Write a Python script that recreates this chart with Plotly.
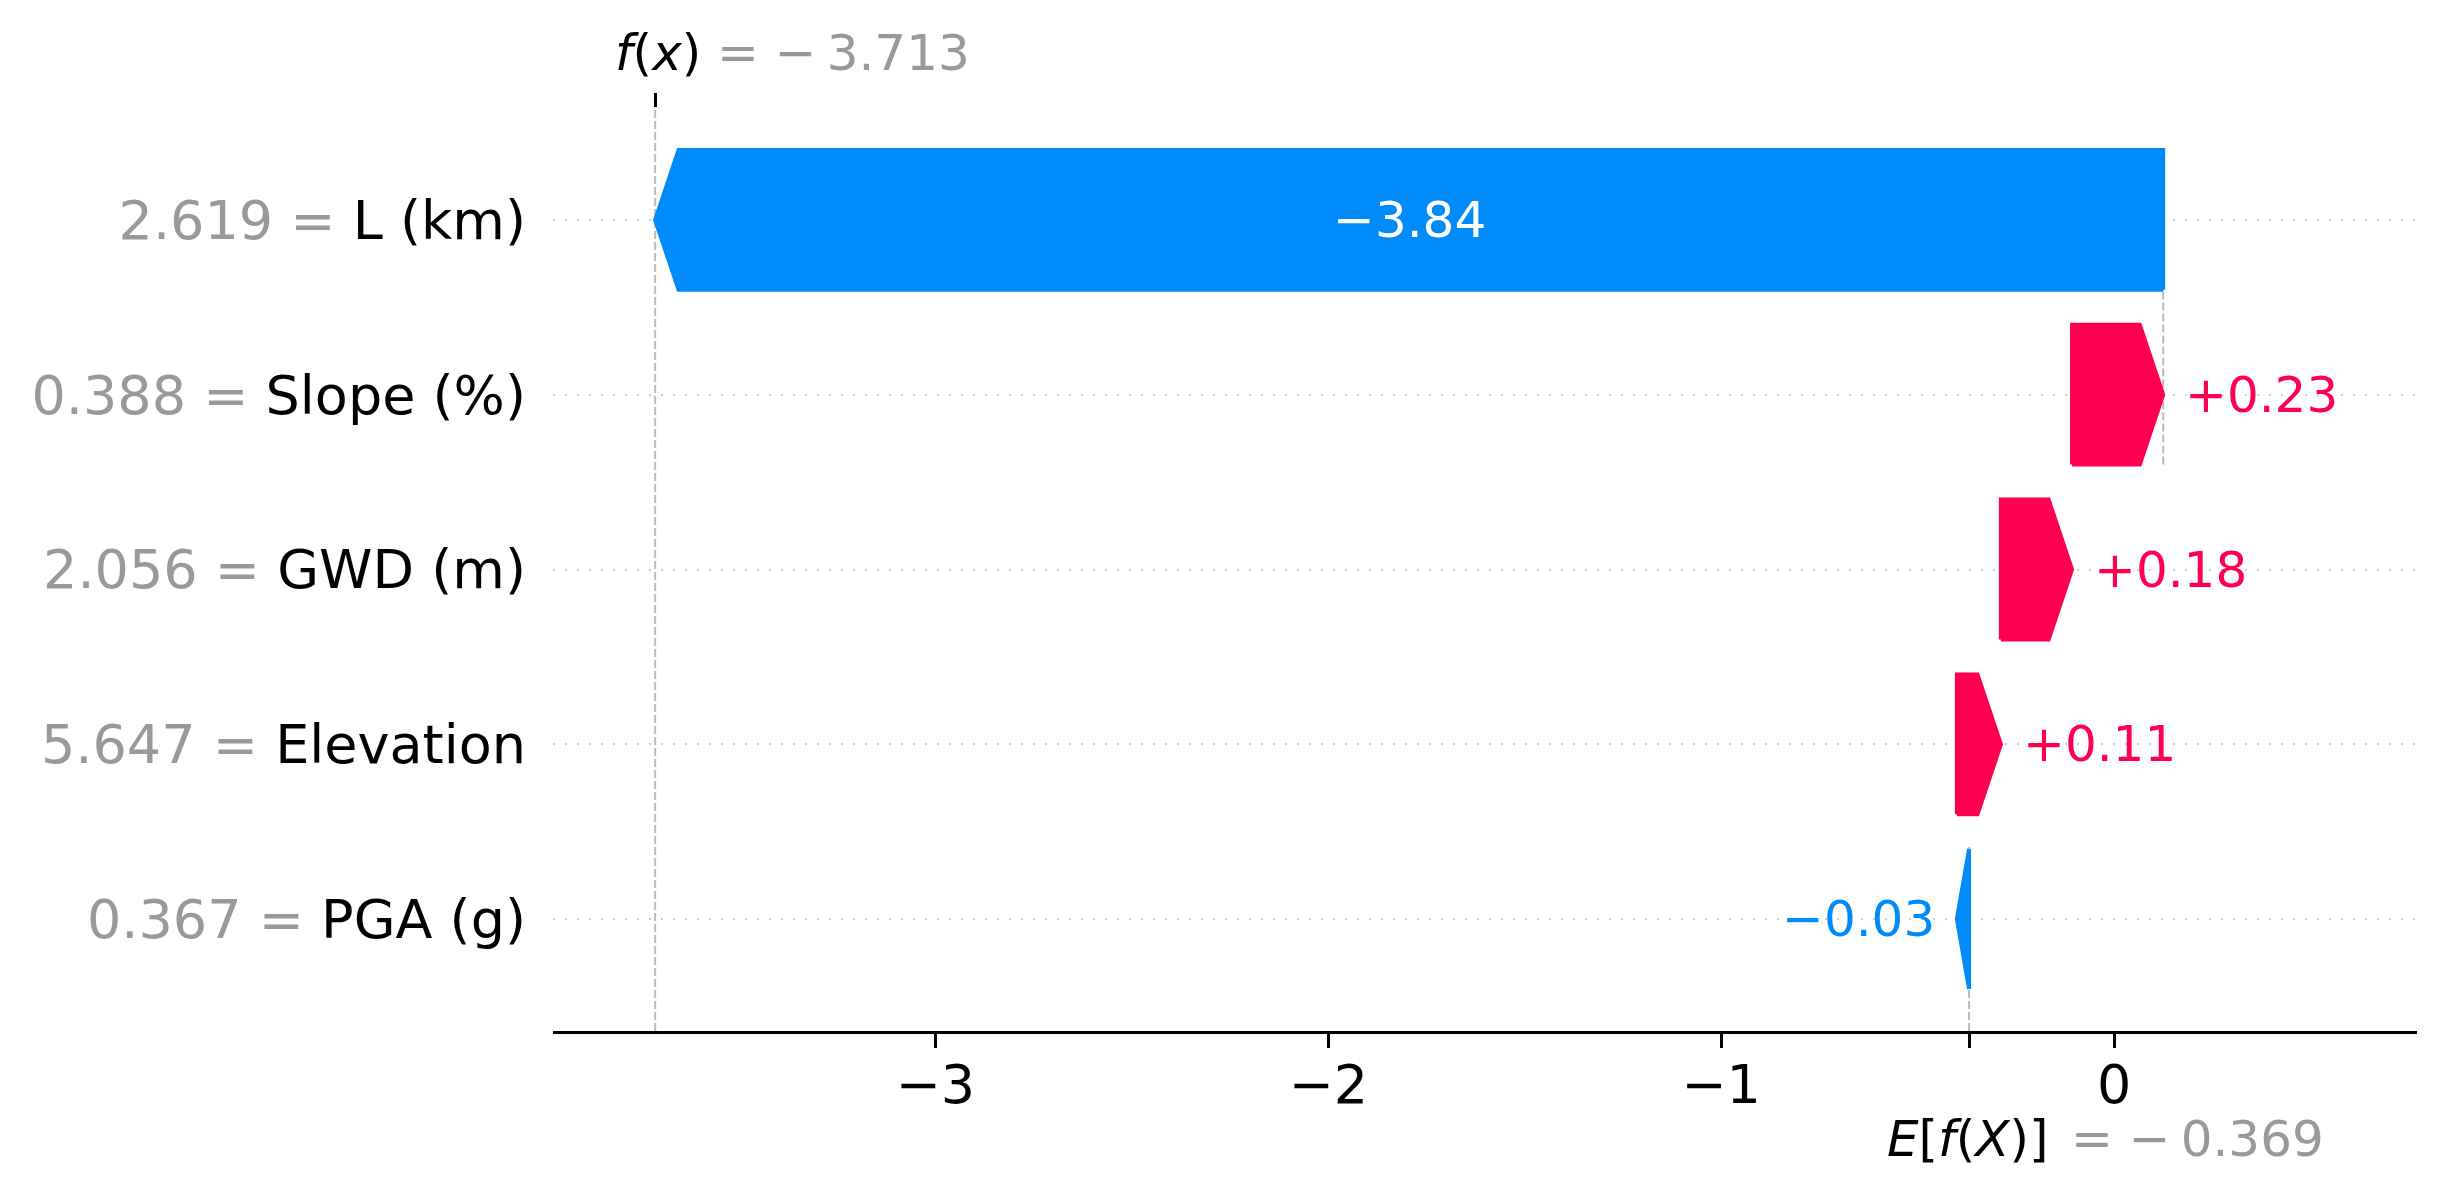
import plotly.graph_objects as go

# ---------------- data ----------------
features = ["L (km)", "Slope (%)", "GWD (m)", "Elevation", "PGA (g)"]
feature_values = [2.619, 0.388, 2.056, 5.647, 0.367]
shap_values = [-3.838, 0.232, 0.181, 0.112, -0.031]
base_value = -0.369
x_tick_vals = [-3, -2, -1, 0]
x_tick_labels = ["−3", "−2", "−1", "0"]

# ---------------- style ----------------
BLUE = "#008bfb"
RED = "#ff0051"
GREY = "#999999"
FONT = "DejaVu Sans"
HEAD = 0.0595      # arrow head length (data units)
HALF = 0.4         # half bar height
XR = [-3.973, 0.771]
YR = [-0.64, 4.64]

n = len(features)
rows = [n - 1 - i for i in range(n)]  # first feature at top
fx = base_value + sum(shap_values)

# cumulative positions (built from the bottom / base value upward)
starts = [0.0] * n
ends = [0.0] * n
loc = base_value
for i in range(n - 1, -1, -1):
    starts[i] = loc
    loc += shap_values[i]
    ends[i] = loc

fig = go.Figure()

for i in range(n):
    v = shap_values[i]
    s, e, y = starts[i], ends[i], rows[i]
    d = 1 if v > 0 else -1
    hl = min(abs(v), HEAD)
    neck = e - d * hl
    xs = [s, neck, e, neck, s, s]
    ys = [y - HALF, y - HALF, y, y + HALF, y + HALF, y - HALF]
    col = RED if v > 0 else BLUE
    fig.add_trace(go.Scatter(x=xs, y=ys, mode="lines", fill="toself",
                             fillcolor=col, line=dict(color=col, width=4),
                             hoverinfo="skip", showlegend=False))

# invisible trace for top axis
fig.add_trace(go.Scatter(x=[fx], y=[rows[0]], xaxis="x2", mode="markers",
                         marker=dict(opacity=0), hoverinfo="skip", showlegend=False))

# bar labels
for i in range(n):
    v = shap_values[i]
    txt = f"{v:+.2f}".replace("-", "−")
    width_px = abs(v) / (XR[1] - XR[0]) * 1864
    if width_px > 160:
        fig.add_annotation(x=(starts[i] + ends[i]) / 2, y=rows[i], xref="x", yref="y",
                           text=txt, showarrow=False, xanchor="center", yanchor="middle",
                           font=dict(family=FONT, size=50, color="white"))
    else:
        fig.add_annotation(x=ends[i], y=rows[i], xref="x", yref="y", text=txt,
                           showarrow=False,
                           xanchor="left" if v > 0 else "right",
                           xshift=20 if v > 0 else -20, yanchor="middle",
                           font=dict(family=FONT, size=50, color=RED if v > 0 else BLUE))


def fmt_eq(val):
    return ("= −\u2009" + f"{abs(val):.3f}") if val < 0 else ("= " + f"{val:.3f}")


# f(x) and E[f(X)] labels
fig.add_annotation(x=fx, y=1, xref="x", yref="paper", text="<i>f</i>(<i>x</i>)",
                   showarrow=False, xanchor="left", yanchor="middle", xshift=-42, yshift=55,
                   font=dict(family=FONT, size=50, color="black"))
fig.add_annotation(x=fx, y=1, xref="x", yref="paper", text=fmt_eq(fx),
                   showarrow=False, xanchor="left", yanchor="middle", xshift=60, yshift=55,
                   font=dict(family=FONT, size=50, color=GREY))
fig.add_annotation(x=base_value, y=0, xref="x", yref="paper",
                   text="<i>E</i>[<i>f</i>(<i>X</i>)]",
                   showarrow=False, xanchor="left", yanchor="middle", xshift=-84, yshift=-108,
                   font=dict(family=FONT, size=50, color="black"))
fig.add_annotation(x=base_value, y=0, xref="x", yref="paper", text=fmt_eq(base_value),
                   showarrow=False, xanchor="left", yanchor="middle", xshift=100, yshift=-108,
                   font=dict(family=FONT, size=50, color=GREY))

# dashed reference lines
dash_line = dict(color="#bbbbbb", width=2, dash="8px,3px")
fig.add_shape(type="line", x0=fx, x1=fx, y0=0, y1=1, xref="x", yref="paper",
              line=dash_line, layer="below")
fig.add_shape(type="line", x0=base_value, x1=base_value, y0=0, y1=1 / n, xref="x",
              yref="paper", line=dash_line, layer="below")
for i in range(n):
    if i + 4 < n:
        fig.add_shape(type="line", x0=starts[i], x1=starts[i], y0=rows[i] - 1 - HALF,
                      y1=rows[i] + HALF, xref="x", yref="y", line=dash_line, layer="below")

ytext = [f"<span style='color:{GREY}'>{fv:.3f} = </span>{nm}"
         for fv, nm in zip(feature_values, features)]

fig.update_layout(
    width=2445, height=1198,
    margin=dict(l=553, r=28, t=108, b=167),
    plot_bgcolor="white", paper_bgcolor="white",
    showlegend=False,
    font=dict(family=FONT, color="black"),
    xaxis=dict(range=XR, tickvals=x_tick_vals + [base_value],
               ticktext=x_tick_labels + [""], ticks="outside", ticklen=14,
               tickwidth=3.3, tickcolor="black", showline=True, linecolor="black",
               linewidth=3.3, showgrid=False, zeroline=False, automargin=False,
               ticklabelstandoff=-10,
               tickfont=dict(family=FONT, size=54, color="black")),
    xaxis2=dict(range=XR, overlaying="x", side="top", tickvals=[fx], ticktext=[""],
                ticks="outside", ticklen=14, tickwidth=3.3, tickcolor="black",
                showline=False, showgrid=False, zeroline=False, automargin=False),
    yaxis=dict(range=YR, tickvals=rows, ticktext=ytext, ticks="",
               showgrid=True, gridcolor="#cccccc", gridwidth=2, griddash="2px,10px",
               zeroline=False, showline=False, automargin=False, ticklabelstandoff=26,
               tickfont=dict(family=FONT, size=54, color="black")),
)

fig.write_html("out.html", config={"displayModeBar": False},
               post_script="document.body.style.margin='0';")
